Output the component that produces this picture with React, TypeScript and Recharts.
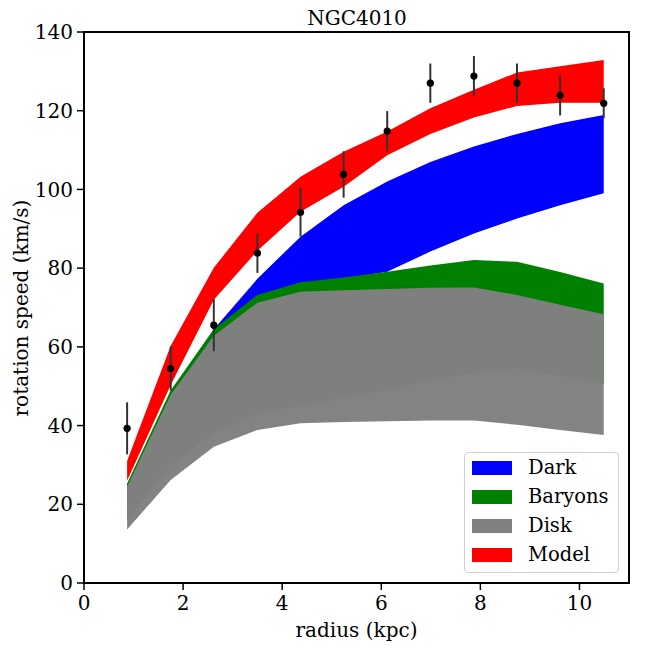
import {
  Area,
  ComposedChart,
  ErrorBar,
  Legend,
  ReferenceArea,
  Scatter,
  XAxis,
  YAxis,
} from "recharts";

const radius = [0.87, 1.75, 2.62, 3.5, 4.37, 5.24, 6.12, 6.99, 7.87, 8.74, 9.61, 10.49];
const observed = [39.3, 54.5, 65.5, 83.8, 94.2, 103.8, 114.8, 127.0, 128.8, 127.0, 123.9, 121.9];
const observedErr = [6.6, 5.6, 6.6, 5.0, 6.2, 5.9, 5.1, 5.0, 5.1, 5.0, 5.1, 3.8];

const modelLow = [26.0, 50.3, 72.0, 84.4, 94.3, 100.7, 108.7, 114.1, 118.3, 121.2, 122.0, 122.0];
const modelHigh = [31.0, 60.3, 80.1, 94.1, 103.2, 109.6, 114.7, 120.6, 125.3, 129.7, 131.3, 132.9];
const darkLow = [24.0, 47.5, 63.0, 71.0, 75.0, 77.3, 79.1, 84.2, 88.8, 92.6, 96.0, 99.0];
const darkHigh = [25.0, 48.5, 64.5, 77.3, 88.0, 96.0, 102.0, 107.0, 110.9, 114.1, 116.8, 118.9];
const baryonLow = [16.0, 30.0, 38.0, 43.0, 45.0, 47.0, 49.0, 51.5, 53.3, 54.6, 52.6, 50.6];
const baryonHigh = [25.3, 49.0, 64.5, 73.2, 76.4, 77.6, 79.1, 80.7, 82.1, 81.6, 79.0, 76.1];
const diskLow = [13.6, 26.2, 34.6, 38.9, 40.6, 40.9, 41.1, 41.3, 41.3, 40.2, 38.9, 37.6];
const diskHigh = [24.5, 47.8, 62.8, 71.2, 74.0, 74.4, 74.7, 75.0, 75.1, 73.2, 70.7, 68.3];

const xTicks = [0, 2, 4, 6, 8, 10];
const yTicks = [0, 20, 40, 60, 80, 100, 120, 140];

const legendItems = [
  { name: "Dark", color: "#0000ff" },
  { name: "Baryons", color: "#008000" },
  { name: "Disk", color: "#808080" },
  { name: "Model", color: "#ff0000" },
];

const data = radius.map((r, i) => ({
  r,
  v: observed[i],
  err: observedErr[i],
  model: [modelLow[i], modelHigh[i]],
  dark: [darkLow[i], darkHigh[i]],
  baryons: [baryonLow[i], baryonHigh[i]],
  disk: [diskLow[i], diskHigh[i]],
}));

const FONT = "'DejaVu Serif', serif";
const tickStyle = { fill: "#000", fontSize: 20, fontFamily: FONT };

function LegendBox() {
  return (
    <div
      style={{
        position: "absolute",
        left: 464,
        top: 452,
        width: 153,
        height: 119,
        border: "1px solid #d0d0d0",
        borderRadius: 4,
        background: "rgba(255,255,255,0.8)",
        fontFamily: FONT,
        fontSize: 19.5,
        color: "#000",
      }}
    >
      {legendItems.map((item, i) => (
        <div
          key={item.name}
          style={{ position: "absolute", left: 7, top: 6 + i * 29, height: 18, display: "flex", alignItems: "center" }}
        >
          <span style={{ display: "inline-block", width: 40, height: 14, background: item.color }} />
          <span style={{ marginLeft: 16, lineHeight: "18px" }}>{item.name}</span>
        </div>
      ))}
    </div>
  );
}

export default function App() {
  return (
    <div style={{ position: "absolute", left: 0, top: 0, width: 648, height: 648, background: "#fff" }}>
      <ComposedChart
        width={648}
        height={648}
        data={data}
        margin={{ top: 32, right: 19, left: 0, bottom: 0 }}
      >
        <XAxis
          type="number"
          dataKey="r"
          domain={[0, 11]}
          ticks={xTicks}
          tick={tickStyle}
          tickSize={7}
          tickMargin={6}
          height={65}
          axisLine={{ stroke: "#000", strokeWidth: 2 }}
          tickLine={{ stroke: "#000", strokeWidth: 1.5 }}
          label={{ value: "radius (kpc)", position: "insideBottom", offset: 11, fill: "#000", fontSize: 20, fontFamily: FONT }}
        />
        <YAxis
          type="number"
          domain={[0, 140]}
          ticks={yTicks}
          tick={tickStyle}
          tickSize={7}
          tickMargin={4}
          width={84}
          axisLine={{ stroke: "#000", strokeWidth: 2 }}
          tickLine={{ stroke: "#000", strokeWidth: 1.5 }}
        />
        <Area type="linear" dataKey="dark" stroke="none" fill="#0000ff" fillOpacity={1} dot={false} activeDot={false} isAnimationActive={false} />
        <Area type="linear" dataKey="baryons" stroke="none" fill="#008000" fillOpacity={1} dot={false} activeDot={false} isAnimationActive={false} />
        <Area type="linear" dataKey="disk" stroke="none" fill="#808080" fillOpacity={0.975} dot={false} activeDot={false} isAnimationActive={false} />
        <Area type="linear" dataKey="model" stroke="none" fill="#ff0000" fillOpacity={1} dot={false} activeDot={false} isAnimationActive={false} />
        <Scatter
          dataKey="v"
          isAnimationActive={false}
          shape={(p: any) => <circle cx={p.cx} cy={p.cy} r={3.6} fill="#000" />}
        >
          <ErrorBar dataKey="err" direction="y" width={0} stroke="#333" strokeWidth={2} isAnimationActive={false} />
        </Scatter>
        <ReferenceArea x1={0} x2={11} y1={0} y2={140} fill="none" stroke="#000" strokeWidth={2} />
        <Legend content={() => null} />
      </ComposedChart>
      <svg width={648} height={648} style={{ position: "absolute", left: 0, top: 0, pointerEvents: "none" }}>
        <text x={357} y={25} textAnchor="middle" fontFamily={FONT} fontSize={20} fill="#000">
          NGC4010
        </text>
        <text
          x={21}
          y={308}
          transform="rotate(-90 21 308)"
          textAnchor="middle"
          dominantBaseline="central"
          fontFamily={FONT}
          fontSize={20}
          fill="#000"
        >
          rotation speed (km/s)
        </text>
      </svg>
      <LegendBox />
    </div>
  );
}
